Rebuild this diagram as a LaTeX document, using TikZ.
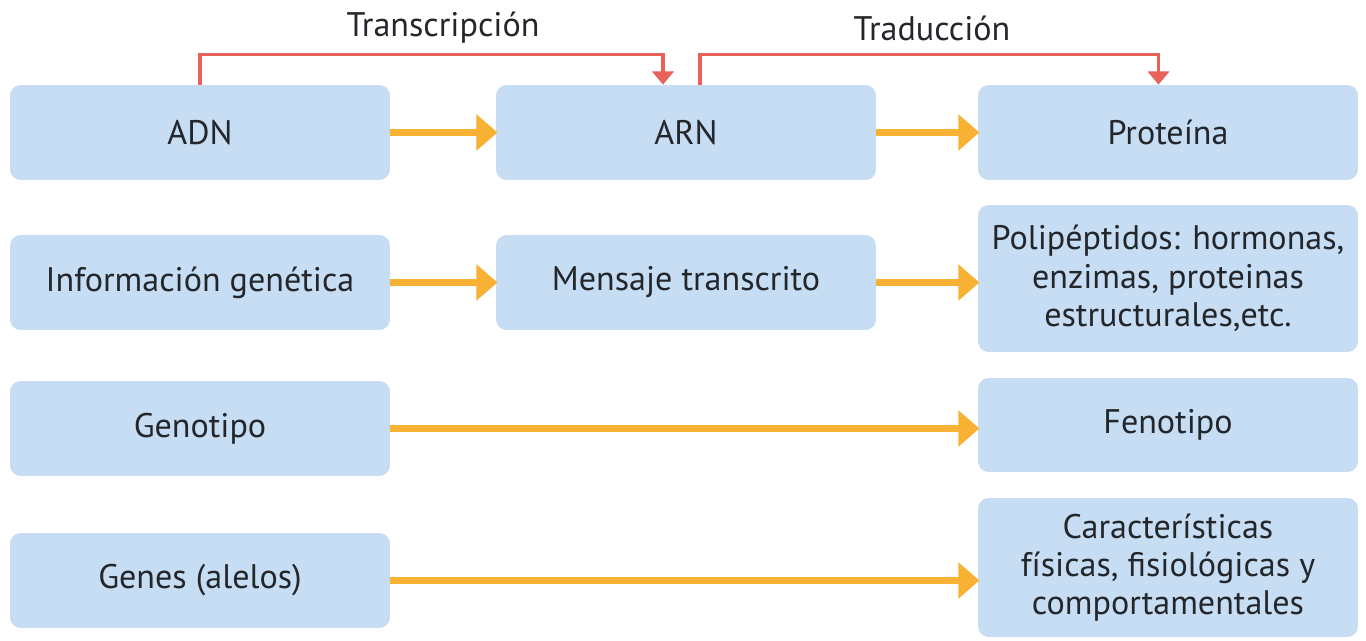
\documentclass[tikz,border=0pt]{standalone}
\usepackage{fontspec}
\setmainfont{PT Sans}
\usetikzlibrary{calc, positioning}
\usetikzlibrary{arrows.meta}
\definecolor{boxblue}{HTML}{C6DDF3}
\definecolor{flecha}{HTML}{F8B133}
\definecolor{rojo}{HTML}{E8625A}
\definecolor{texto}{HTML}{23262B}
\tikzset{
  font=\fontsize{19.4}{21.8}\selectfont,
  % Caja de concepto
  caja/.style={draw=none, fill=boxblue, rounded corners=6pt, align=center,
    text=texto, minimum width=7.6cm, minimum height=1.9cm, inner sep=2pt},
  % Flecha naranja
  paso/.style={draw=flecha, line width=4.2pt,
    -{Triangle[length=12pt, width=20pt]}, shorten >=-1pt},
  % Conector rojo
  proc/.style={draw=rojo, line width=1.9pt,
    -{Triangle[length=7.5pt, width=12pt]}},
  % Etiqueta del proceso
  etiqueta/.style={text=texto},
}
\begin{document}
\begin{tikzpicture}[x=0.02cm, y=-0.02cm]
      \useasboundingbox (0,0) rectangle (1366,641);

      \node[caja] (adn) at (200,132.5) {ADN};
      \node[caja] (arn) at (686,132.5) {ARN};
      \node[caja] (prot) at (1168,132.5) {Proteína};

      \node[caja] (info) at (200,282.5) {Información genética};
      \node[caja] (msj) at (686,282.5) {Mensaje transcrito};
      \node[caja, minimum height=2.94cm] (poli) at (1168,278.5)
      {Polipéptidos: hormonas,\\ enzimas, proteinas\\ estructurales,etc.};

      \node[caja] (geno) at (200,428.5) {Genotipo};
      \node[caja, minimum height=1.88cm] (feno) at (1168,425) {Fenotipo};

      \node[caja] (genes) at (200,580.5) {Genes (alelos)};
      \node[caja, minimum height=2.78cm] (carac) at (1168,567.5)
      {Características\\ físicas, fisiológicas y\\ comportamentales};

      \draw[paso] (adn) -- (arn);
      \draw[paso] (arn) -- (prot);
      \draw[paso] (info) -- (msj);
      \draw[paso] (msj.east) -- (msj.east -| poli.west);
      \draw[paso] (geno.east) -- (geno.east -| feno.west);
      \draw[paso] (genes.east) -- (genes.east -| carac.west);

      \draw[proc] (adn.north) -- ++(0,-30) -| ([xshift=-0.46cm]arn.north);
      \draw[proc] ([xshift=0.28cm]arn.north) -- ++(0,-30)
      -| ([xshift=-0.19cm]prot.north);

      \node[etiqueta] (transc) at (443,28) {Transcripción};
      \node[etiqueta] (trad) at (932,28) {Traducción};
    \end{tikzpicture}
\end{document}
